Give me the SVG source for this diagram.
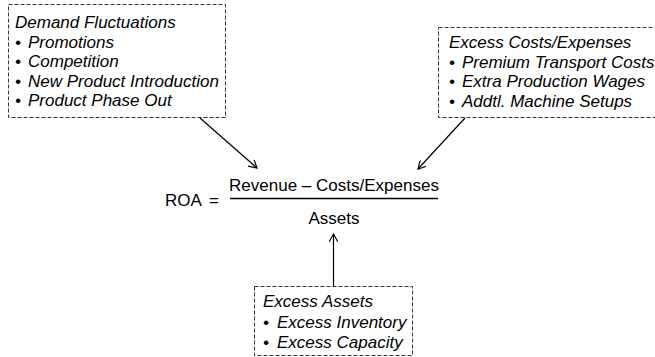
<svg xmlns="http://www.w3.org/2000/svg" width="655" height="357" viewBox="0 0 655 357">
<defs>
<style>
.box{fill:#fff;stroke:#333;stroke-width:1;stroke-dasharray:4,2}
.t{font-family:"Liberation Sans",Arial,sans-serif;font-size:17px;font-style:italic;fill:#000}
.f{font-family:"Liberation Sans",Arial,sans-serif;font-size:17px;fill:#000}
.c{stroke:#000;stroke-width:1.2;fill:none;marker-end:url(#ah)}
</style>
<marker id="ah" viewBox="0 0 10 10" refX="9" refY="5" markerWidth="9" markerHeight="9" markerUnits="userSpaceOnUse" orient="auto">
<path d="M0,0 L9,5 L0,10" fill="none" stroke="#000" stroke-width="1.3"/>
</marker>
</defs>
<rect width="655" height="357" fill="#fff"/>
<g id="demand">
<rect class="box" x="8.5" y="4.5" width="217" height="113"/>
<text class="t" x="15" y="28">Demand Fluctuations</text>
<text class="t" x="15" y="47.5">•</text><text class="t" x="28" y="47.5">Promotions</text>
<text class="t" x="15" y="67">•</text><text class="t" x="28" y="67">Competition</text>
<text class="t" x="15" y="86.5">•</text><text class="t" x="28" y="86.5">New Product Introduction</text>
<text class="t" x="15" y="106">•</text><text class="t" x="28" y="106">Product Phase Out</text>
</g>
<g id="costs">
<rect class="box" x="438.5" y="27.5" width="220" height="90"/>
<text class="t" x="449" y="48">Excess Costs/Expenses</text>
<text class="t" x="449" y="67.5">•</text><text class="t" x="462" y="67.5">Premium Transport Costs</text>
<text class="t" x="449" y="87">•</text><text class="t" x="462" y="87">Extra Production Wages</text>
<text class="t" x="449" y="106.5">•</text><text class="t" x="462" y="106.5">Addtl. Machine Setups</text>
</g>
<g id="assets">
<rect class="box" x="254.5" y="286.5" width="158" height="69"/>
<text class="t" x="263" y="307">Excess Assets</text>
<text class="t" x="263" y="327.5">•</text><text class="t" x="277" y="327.5">Excess Inventory</text>
<text class="t" x="263" y="348">•</text><text class="t" x="277" y="348">Excess Capacity</text>
</g>
<g id="roa">
<text class="f" x="165" y="206">ROA</text>
<text class="f" x="209" y="206">=</text>
<text class="f" x="334" y="191" text-anchor="middle">Revenue – Costs/Expenses</text>
<line x1="230" y1="198.5" x2="438" y2="198.5" stroke="#000" stroke-width="1.6"/>
<text class="f" x="334" y="224" text-anchor="middle">Assets</text>
</g>
<g id="connectors">
<line class="c" x1="200" y1="118" x2="257" y2="168"/>
<line class="c" x1="465" y1="118" x2="418" y2="169"/>
<line class="c" x1="333.5" y1="286" x2="333.5" y2="234"/>
</g>
</svg>
